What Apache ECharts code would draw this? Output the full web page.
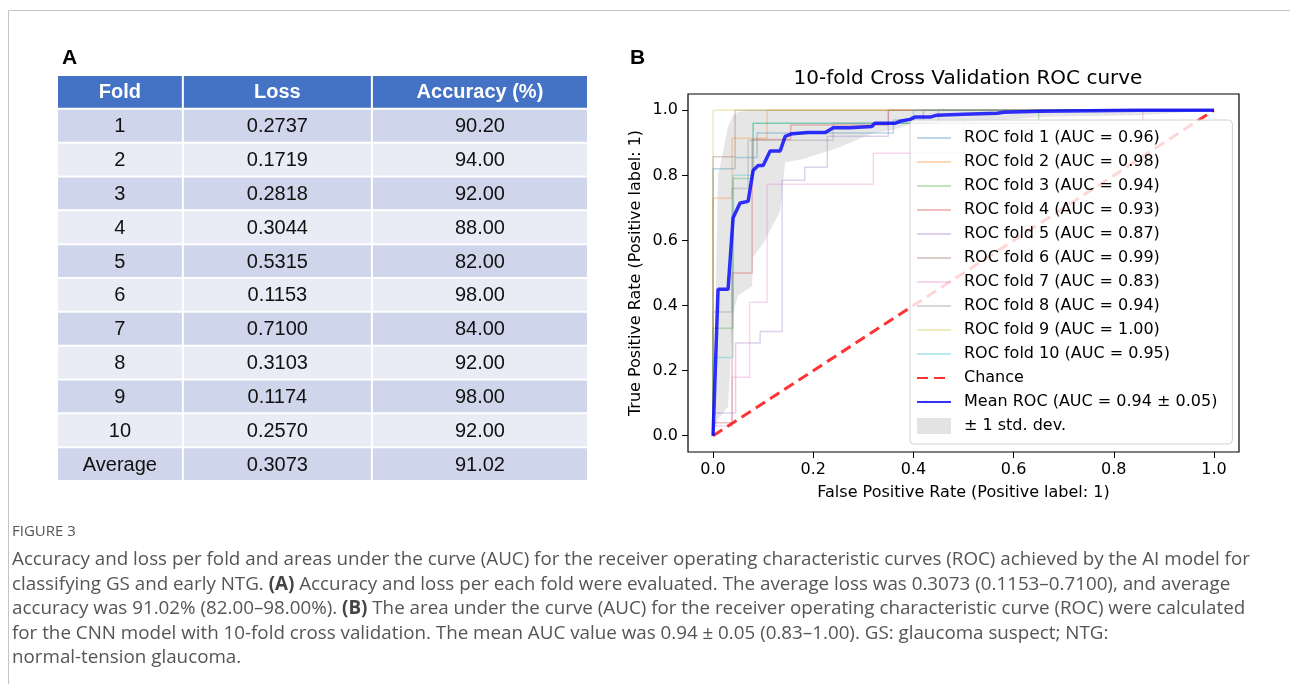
<!DOCTYPE html>
<html>
<head>
<meta charset="utf-8">
<title>Figure 3</title>
<script src="https://cdn.jsdelivr.net/npm/echarts@6/dist/echarts.min.js"></script>
<style>
  html, body { margin: 0; padding: 0; background: #fff; }
  #main { width: 1290px; height: 684px; }
</style>
</head>
<body>
<div id="main"></div>
<script>
// ---- table (panel A) ----
var tableHeader = ['Fold', 'Loss', 'Accuracy (%)'];
var foldNames = ['1', '2', '3', '4', '5', '6', '7', '8', '9', '10', 'Average'];
var lossValues = [0.2737, 0.1719, 0.2818, 0.3044, 0.5315, 0.1153, 0.7100, 0.3103, 0.1174, 0.2570, 0.3073];
var accuracyValues = [90.20, 94.00, 92.00, 88.00, 82.00, 98.00, 84.00, 92.00, 98.00, 92.00, 91.02];

// ---- ROC curves (panel B) ----
var foldAuc = [0.96, 0.98, 0.94, 0.93, 0.87, 0.99, 0.83, 0.94, 1.00, 0.95];
var foldFpr = [
  [0, 0, 0.044, 0.044, 0.088, 0.088, 0.36, 0.36, 0.42, 0.42, 1],
  [0, 0, 0.038, 0.038, 0.108, 0.108, 1],
  [0, 0, 0.04, 0.04, 0.08, 0.08, 0.65, 0.65, 1],
  [0, 0, 0.038, 0.038, 0.078, 0.078, 0.155, 0.155, 0.35, 0.35, 1],
  [0, 0, 0.045, 0.045, 0.094, 0.094, 0.138, 0.138, 0.183, 0.183, 0.228, 0.228, 0.35, 0.35, 1],
  [0, 0, 0.044, 0.044, 1],
  [0, 0, 0.038, 0.038, 0.073, 0.073, 0.108, 0.108, 0.32, 0.32, 0.5, 0.5, 0.858, 0.858, 1],
  [0, 0, 0.038, 0.038, 0.07, 0.07, 0.24, 0.24, 0.45, 0.45, 1],
  [0, 0, 1],
  [0, 0, 0.04, 0.04, 0.08, 0.08, 0.4, 0.4, 1]
];
var foldTpr = [
  [0, 0.82, 0.82, 0.855, 0.855, 0.93, 0.93, 0.97, 0.97, 1, 1],
  [0, 0.73, 0.73, 0.914, 0.914, 1, 1],
  [0, 0.33, 0.33, 0.79, 0.79, 0.96, 0.96, 1, 1],
  [0, 0.04, 0.04, 0.5, 0.5, 0.91, 0.91, 0.955, 0.955, 1, 1],
  [0, 0.07, 0.07, 0.285, 0.285, 0.32, 0.32, 0.785, 0.785, 0.825, 0.825, 0.92, 0.92, 1, 1],
  [0, 0.857, 0.857, 1, 1],
  [0, 0.03, 0.03, 0.18, 0.18, 0.41, 0.41, 0.773, 0.773, 0.868, 0.868, 0.96, 0.96, 1, 1],
  [0, 0.38, 0.38, 0.76, 0.76, 0.908, 0.908, 0.96, 0.96, 1, 1],
  [0, 1, 1],
  [0, 0.24, 0.24, 0.8, 0.8, 0.96, 0.96, 1, 1]
];
var meanFpr = [0, 0.01, 0.03, 0.04, 0.054, 0.07, 0.08, 0.09, 0.10, 0.114, 0.134, 0.144, 0.158, 0.19, 0.224, 0.24,
  0.273, 0.317, 0.323, 0.363, 0.373, 0.393, 0.403, 0.433, 0.447, 0.5, 0.567, 0.58, 0.653, 0.85, 1.0];
var meanTpr = [0, 0.45, 0.45, 0.67, 0.715, 0.72, 0.815, 0.83, 0.83, 0.875, 0.875, 0.92, 0.928, 0.932, 0.932, 0.946,
  0.946, 0.95, 0.96, 0.96, 0.966, 0.972, 0.979, 0.979, 0.985, 0.988, 0.991, 0.994, 0.997, 1.0, 1.0];
var meanAuc = 0.94, stdAuc = 0.05;
var bandFpr = [0, 0.01, 0.03, 0.04, 0.05, 0.078, 0.08, 0.10, 0.134, 0.144, 0.18, 0.22, 0.25, 0.32, 0.36, 0.39, 0.58, 0.66, 0.85, 1.0];
var bandLower = [0, 0.05, 0.09, 0.38, 0.43, 0.46, 0.55, 0.59, 0.69, 0.84, 0.85, 0.87, 0.885, 0.93, 0.94, 0.955, 0.97, 0.98, 0.985, 1.0];
var bandUpper = [0, 0.80, 0.95, 0.985, 0.995, 1, 1, 1, 1, 1, 1, 1, 1, 1, 1, 1, 1, 1, 1, 1];
var chanceFpr = [0, 1];
var chanceTpr = [0, 1];
var tickValues = [0, 0.2, 0.4, 0.6, 0.8, 1.0];

var captionLines = [
  'Accuracy and loss per fold and areas under the curve (AUC) for the receiver operating characteristic curves (ROC) achieved by the AI model for',
  'classifying GS and early NTG. {b|(A)} Accuracy and loss per each fold were evaluated. The average loss was 0.3073 (0.1153\u20130.7100), and average',
  'accuracy was 91.02% (82.00\u201398.00%). {b|(B)} The area under the curve (AUC) for the receiver operating characteristic curve (ROC) were calculated',
  'for the CNN model with 10-fold cross validation. The mean AUC value was 0.94 \u00b1 0.05 (0.83\u20131.00). GS: glaucoma suspect; NTG:',
  'normal-tension glaucoma.'
];

// styles
var foldColors = ['#1f77b4', '#ff7f0e', '#2ca02c', '#d62728', '#9467bd', '#8c564b', '#e377c2', '#7f7f7f', '#bcbd22', '#17becf'];
var colEdges = [0, 0.237, 0.593, 1];
var plotFont = 'DejaVu Sans';
var tableFont = 'Liberation Sans';
var captionFont = 'Open Sans';

var chart = echarts.init(document.getElementById('main'));

function pairs(xs, ys) {
  return xs.map(function (x, i) { return [x, ys[i]]; });
}

var bandName = '\u00b1 1 std. dev.';
var meanName = 'Mean ROC (AUC = ' + meanAuc.toFixed(2) + ' \u00b1 ' + stdAuc.toFixed(2) + ')';
var foldLabels = foldAuc.map(function (a, i) { return 'ROC fold ' + (i + 1) + ' (AUC = ' + a.toFixed(2) + ')'; });

var series = [];

// std band
series.push({
  type: 'custom',
  name: bandName,
  xAxisIndex: 0, yAxisIndex: 0,
  z: 1,
  silent: true,
  itemStyle: { color: '#e3e3e3' },
  data: [[0, 0]],
  renderItem: function (params, api) {
    var pts = [];
    for (var i = 0; i < bandFpr.length; i++) pts.push(api.coord([bandFpr[i], bandUpper[i]]));
    for (var j = bandFpr.length - 1; j >= 0; j--) pts.push(api.coord([bandFpr[j], bandLower[j]]));
    return { type: 'polygon', shape: { points: pts }, style: { fill: 'rgba(128,128,128,0.2)' } };
  }
});

foldLabels.forEach(function (name, i) {
  series.push({
    type: 'line',
    name: name,
    xAxisIndex: 0, yAxisIndex: 0,
    data: pairs(foldFpr[i], foldTpr[i]),
    symbol: 'none',
    z: 2,
    silent: true,
    itemStyle: { color: foldColors[i] },
    lineStyle: { color: foldColors[i], width: 1.5, opacity: 0.3 }
  });
});

series.push({
  type: 'line',
  name: 'Chance',
  data: pairs(chanceFpr, chanceTpr),
  symbol: 'none',
  z: 3,
  silent: true,
  itemStyle: { color: '#ff0000' },
  lineStyle: { color: '#ff0000', width: 3, opacity: 0.8, type: [11, 6] }
});

series.push({
  type: 'line',
  name: meanName,
  data: pairs(meanFpr, meanTpr),
  symbol: 'none',
  z: 4,
  silent: true,
  itemStyle: { color: '#0000ff' },
  lineStyle: { color: '#0000ff', width: 3.5, opacity: 0.8 }
});

// table cells
var tableRows = ['header'].concat(foldNames);
var cellData = [];
tableRows.forEach(function (r, ri) {
  for (var c = 0; c < 3; c++) cellData.push([colEdges[c], ri, c]);
});
series.push({
  type: 'custom',
  name: 'table',
  xAxisIndex: 1, yAxisIndex: 1,
  silent: true,
  data: cellData,
  renderItem: function (params, api) {
    var r = api.value(1), c = api.value(2);
    var p0 = api.coord([colEdges[c], r]);
    var p1 = api.coord([colEdges[c + 1], r]);
    var h = api.size([0, 1])[1];
    var fill = r === 0 ? '#4472c4' : (r % 2 === 1 ? '#cfd5ea' : '#e9ebf5');
    var text;
    if (r === 0) text = tableHeader[c];
    else if (c === 0) text = foldNames[r - 1];
    else if (c === 1) text = lossValues[r - 1].toFixed(4);
    else text = accuracyValues[r - 1].toFixed(2);
    return {
      type: 'group',
      children: [
        { type: 'rect', shape: { x: p0[0] + 1, y: p0[1] - h / 2 + 1, width: p1[0] - p0[0] - 2, height: h - 2 }, style: { fill: fill } },
        { type: 'text', x: (p0[0] + p1[0]) / 2, y: p0[1] + 1,
          style: { text: text, align: 'center', verticalAlign: 'middle', fill: r === 0 ? '#ffffff' : '#111111',
            fontSize: 20, fontFamily: tableFont, fontWeight: r === 0 ? 'bold' : 'normal' } }
      ]
    };
  }
});

var graphics = [
  { type: 'rect', silent: true, z: -10, shape: { x: 8.5, y: 10.5, width: 1400, height: 800 },
    style: { fill: 'none', stroke: '#c4c4c4', lineWidth: 1 } },
  { type: 'text', silent: true, x: 12, y: 532,
    style: { text: 'FIGURE 3', fontSize: 15, fontFamily: captionFont, fill: '#555555', verticalAlign: 'middle' } }
];
captionLines.forEach(function (line, i) {
  graphics.push({
    type: 'text', silent: true, x: 12, y: 560 + i * 24.5,
    style: {
      text: line, fontSize: 18.8, fontFamily: captionFont, fill: '#555555', verticalAlign: 'middle',
      rich: { b: { fontSize: 18.8, fontFamily: captionFont, fontWeight: 'bold', fill: '#444444' } }
    }
  });
});

var tickAxis = {
  min: -0.05, max: 1.05,
  axisLine: { show: false, onZero: false },
  axisTick: { show: true, length: 6, lineStyle: { color: '#000' }, customValues: tickValues },
  axisLabel: { fontSize: 16, color: '#000', customValues: tickValues,
    formatter: function (v) { return v.toFixed(1); } },
  splitLine: { show: false },
  nameLocation: 'middle',
  nameTextStyle: { fontSize: 16, color: '#000', fontFamily: plotFont }
};

var option = {
  animation: false,
  textStyle: { fontFamily: plotFont },
  title: [
    { text: 'A', left: 57, top: 43, textStyle: { fontSize: 21, fontWeight: 'bold', fontFamily: tableFont, color: '#000' } },
    { text: 'B', left: 625, top: 43, textStyle: { fontSize: 21, fontWeight: 'bold', fontFamily: tableFont, color: '#000' } },
    { text: '10-fold Cross Validation ROC curve', left: 963, top: 64, textAlign: 'center',
      textStyle: { fontSize: 20, fontWeight: 'normal', fontFamily: plotFont, color: '#000' } }
  ],
  grid: [
    { left: 688, top: 94, width: 551, height: 358, show: true, borderColor: '#000', borderWidth: 1.2, backgroundColor: 'transparent' },
    { left: 57, top: 75, width: 531, height: 406 }
  ],
  xAxis: [
    echarts.util.merge({
      gridIndex: 0, type: 'value',
      name: 'False Positive Rate (Positive label: 1)', nameGap: 33,
      axisLabel: { margin: 10 }
    }, tickAxis),
    { gridIndex: 1, type: 'value', min: 0, max: 1, show: false }
  ],
  yAxis: [
    echarts.util.merge({
      gridIndex: 0, type: 'value',
      name: 'True Positive Rate (Positive label: 1)', nameGap: 44,
      axisLabel: { margin: 10 }
    }, tickAxis),
    { gridIndex: 1, type: 'category', data: tableRows, inverse: true, show: false }
  ],
  legend: {
    orient: 'vertical',
    left: 910, top: 120,
    selectedMode: false,
    itemWidth: 34, itemHeight: 16, itemGap: 8,
    padding: [10, 15, 10, 6],
    backgroundColor: 'rgba(255,255,255,0.8)',
    borderColor: '#d0d0d0', borderWidth: 1, borderRadius: 4,
    itemStyle: { color: 'rgba(0,0,0,0)', borderColor: 'rgba(0,0,0,0)', borderWidth: 0 },
    textStyle: { fontSize: 16, color: '#000', fontFamily: plotFont, padding: [0, 0, 0, 8] },
    data: foldLabels.concat(['Chance', meanName, { name: bandName, icon: 'rect', itemStyle: { color: '#e3e3e3' } }])
  },
  graphic: graphics,
  series: series
};

chart.setOption(option);
</script>
</body>
</html>
